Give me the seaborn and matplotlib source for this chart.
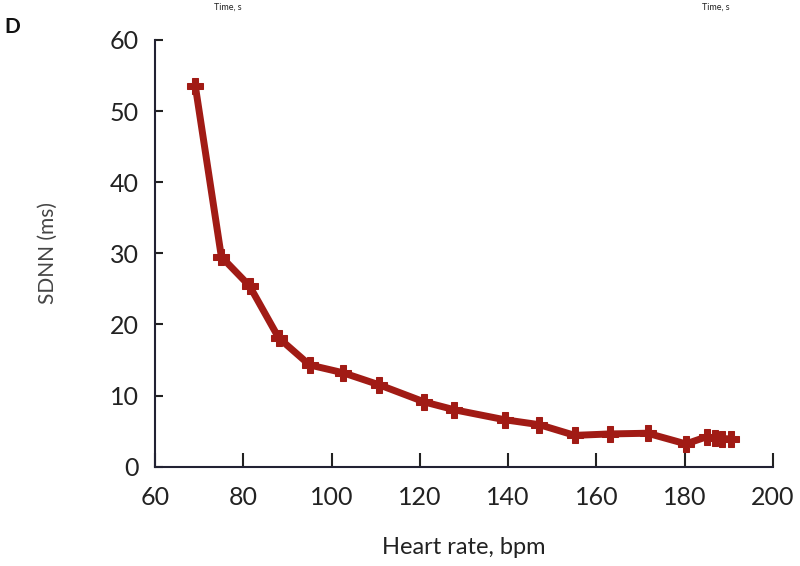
import matplotlib
matplotlib.use("Agg")
import matplotlib.pyplot as plt
import seaborn as sns
import pandas as pd

heart_rate = [69.1, 75.0, 81.4, 88.0, 95.0, 102.6, 110.8, 121.0, 127.8, 139.2,
              147.1, 155.1, 163.0, 171.6, 180.3, 185.0, 186.9, 188.4, 190.5]
sdnn = [53.5, 29.5, 25.4, 18.1, 14.3, 13.2, 11.5, 9.1, 8.0, 6.6,
        5.9, 4.4, 4.6, 4.7, 3.2, 4.2, 4.0, 3.95, 3.9]
x_ticks = [60, 80, 100, 120, 140, 160, 180, 200]
y_ticks = [0, 10, 20, 30, 40, 50, 60]

df = pd.DataFrame({"hr": heart_rate, "sdnn": sdnn})

sns.set_theme(style="ticks")
plt.rcParams["font.family"] = ["Lato", "DejaVu Sans"]

fig = plt.figure(figsize=(8, 5.66), dpi=100)
ax = fig.add_axes([0.194, 0.1755, 0.772, 0.754])

color = "#A11B15"
sns.lineplot(data=df, x="hr", y="sdnn", ax=ax, color=color, linewidth=5,
             marker="P", markersize=11, markeredgecolor=color, markerfacecolor=color,
             sort=False)

ax.set_xlim(60, 200)
ax.set_ylim(0, 60)
ax.set_xticks(x_ticks)
ax.set_yticks(y_ticks)
ax.tick_params(axis="x", direction="in", length=10, width=1.5, labelsize=18,
               colors="#222222", pad=14)
ax.tick_params(axis="y", direction="in", length=6, width=1.5, labelsize=18,
               colors="#222222", pad=12)
for s in ["top", "right"]:
    ax.spines[s].set_visible(False)
for s in ["left", "bottom"]:
    ax.spines[s].set_linewidth(1.5)
    ax.spines[s].set_color("#222233")

ax.set_xlabel("Heart rate, bpm", fontsize=17, color="#222222", labelpad=20)
ax.set_ylabel("SDNN (ms)", fontsize=15, color="#444444", labelpad=37)

fig.text(0.006, 0.952, "D", fontsize=15, fontweight="bold", color="#111111", va="center")
fig.text(0.285, 0.995, "Time, s", fontsize=6.5, color="#222222", ha="center", va="top")
fig.text(0.895, 0.995, "Time, s", fontsize=6.5, color="#222222", ha="center", va="top")

fig.savefig("out.png", dpi=100)
